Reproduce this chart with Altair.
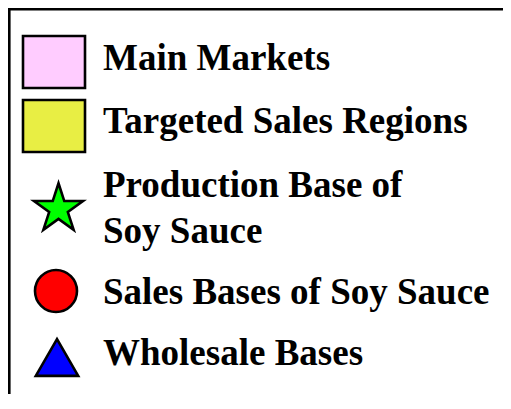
import altair as alt
import pandas as pd

# Legend entries (top to bottom)
labels = [
    "Main Markets",
    "Targeted Sales Regions",
    "Production Base of\nSoy Sauce",
    "Sales Bases of Soy Sauce",
    "Wholesale Bases",
]
fill_colors = ["#FFCCFF", "#E8EE44", "#00FF00", "#FF0000", "#0000FF"]

# symbol shapes
RECT = "M-1,-0.839L1,-0.839L1,0.839L-1,0.839Z"
STAR = ("M0,-1L0.2245,-0.309L0.951,-0.309L0.363,0.118L0.588,0.809L0,0.382"
        "L-0.588,0.809L-0.363,0.118L-0.951,-0.309L-0.2245,-0.309Z")
shapes = [RECT, RECT, STAR, "circle", "triangle-up"]

W, H = 495, 386
rows = [1, 2, 3, 4, 5]

df = pd.DataFrame({"label": labels})
base = alt.Chart(df).transform_window(row="row_number()")

symbols = base.mark_point(filled=True, opacity=1, stroke="black", strokeWidth=2.6).encode(
    x=alt.X("row:Q", axis=None,
            scale=alt.Scale(domain=rows, range=[46, 46, 50.5, 48, 49], zero=False, nice=False)),
    y=alt.Y("row:Q", axis=None,
            scale=alt.Scale(domain=rows, range=[54, 118, 201, 283, 349.5], zero=False, nice=False)),
    size=alt.Size("row:Q", legend=None,
                  scale=alt.Scale(domain=rows, range=[3844, 3844, 2650, 1764, 1800], zero=False, nice=False)),
    shape=alt.Shape("label:N", legend=None, scale=alt.Scale(domain=labels, range=shapes)),
    fill=alt.Fill("label:N", legend=None, scale=alt.Scale(domain=labels, range=fill_colors)),
)

texts = base.mark_text(
    align="left", baseline="alphabetic", font="Liberation Serif", fontWeight="bold",
    fontSize=37, color="black", lineBreak="\n", lineHeight=46,
).encode(
    x=alt.value(95),
    y=alt.Y("row:Q", axis=None,
            scale=alt.Scale(domain=rows, range=[62, 125, 189, 296, 357], zero=False, nice=False)),
    text="label:N",
)

one = alt.Data(values=[{}])
top_rule = alt.Chart(one).mark_rule(color="black", strokeWidth=2.6).encode(
    x=alt.value(0), x2=alt.value(W), y=alt.value(1.3))
left_rule = alt.Chart(one).mark_rule(color="black", strokeWidth=2.6).encode(
    x=alt.value(1.3), y=alt.value(0), y2=alt.value(H))

chart = alt.layer(top_rule, left_rule, symbols, texts).resolve_scale(
    x="independent", y="independent"
).properties(
    width=W, height=H, padding=0, autosize=alt.AutoSizeParams(type="none"),
    background="white",
).configure_view(stroke="transparent", strokeWidth=0)

chart.save("out.html", embed_options={"renderer": "svg", "actions": False})
